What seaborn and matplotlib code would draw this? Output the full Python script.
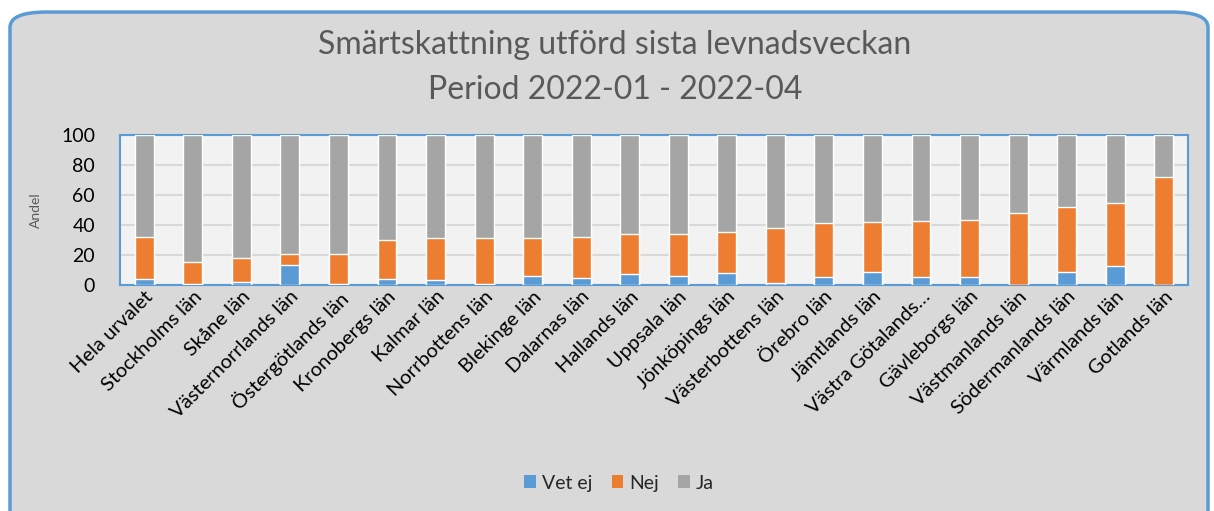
import numpy as np
import pandas as pd
import seaborn as sns
import matplotlib.pyplot as plt
from matplotlib.patches import FancyBboxPatch, Patch

# Data (andel, %)
regions = [
    "Hela urvalet", "Stockholms län", "Skåne län", "Västernorrlands län",
    "Östergötlands län", "Kronobergs län", "Kalmar län", "Norrbottens län",
    "Blekinge län", "Dalarnas län", "Hallands län", "Uppsala län",
    "Jönköpings län", "Västerbottens län", "Örebro län", "Jämtlands län",
    "Västra Götalands…", "Gävleborgs län", "Västmanlands län",
    "Södermanlands län", "Värmlands län", "Gotlands län",
]
vet_ej = [4.3, 1.0, 2.2, 13.5, 0.5, 4.3, 3.4, 0.4, 5.8, 4.5, 7.2, 5.8,
          7.8, 1.6, 5.4, 8.5, 5.4, 5.4, 0.2, 8.5, 12.5, 0.0]
nej_top = [32.0, 15.4, 18.3, 20.4, 21.0, 30.2, 31.1, 31.3, 31.3, 32.0, 34.2, 34.2,
           35.1, 38.0, 41.2, 42.0, 42.5, 43.2, 48.3, 51.7, 55.0, 71.8]
nej = [t - v for t, v in zip(nej_top, vet_ej)]
ja = [100 - t for t in nej_top]

series = ["Vet ej", "Nej", "Ja"]
colors = {"Vet ej": "#5B9BD5", "Nej": "#ED7D31", "Ja": "#A5A5A5"}

df = pd.DataFrame({"region": regions, "Vet ej": vet_ej, "Nej": nej, "Ja": ja})
# cumulative heights for stacking
df["c_vet"] = df["Vet ej"]
df["c_nej"] = df["Vet ej"] + df["Nej"]
df["c_ja"] = df["c_nej"] + df["Ja"]

sns.set_theme(style="white")
plt.rcParams["font.family"] = ["Lato", "DejaVu Sans"]

fig = plt.figure(figsize=(12.14, 5.11), dpi=100)
fig.patch.set_facecolor("white")

# rounded chart frame
frame = FancyBboxPatch((10 / 1214, -0.05), 1198 / 1214, 1.0 - 10 / 511 + 0.05 - 0.004,
                       boxstyle="round,pad=0,rounding_size=0.03",
                       transform=fig.transFigure, facecolor="#D9D9D9",
                       edgecolor="#5B9BD5", linewidth=2.5, zorder=-10)
fig.patches.append(frame)

ax = fig.add_axes([120 / 1214, 1 - 285 / 511, 1068 / 1214, 150 / 511])
ax.set_zorder(1)
ax.set_facecolor("#F2F2F2")

for col, key in [("c_ja", "Ja"), ("c_nej", "Nej"), ("c_vet", "Vet ej")]:
    sns.barplot(data=df, x="region", y=col, color=colors[key], width=0.39,
                saturation=1, ax=ax, zorder=3)

ax.set_ylim(0, 100)
ax.set_xlim(-0.5, len(regions) - 0.5)
ax.set_yticks(range(0, 101, 20))
ax.yaxis.grid(True, color="#D9D9D9", linewidth=1.5, zorder=0)
ax.set_axisbelow(True)
for s in ax.spines.values():
    s.set_color("#5B9BD5")
    s.set_linewidth(1.5)

ax.tick_params(axis="y", labelsize=14, colors="#000000", length=0, pad=18)
ax.tick_params(axis="x", labelsize=14.5, colors="#000000", length=0, pad=2)
plt.setp(ax.get_xticklabels(), rotation=45, ha="right", rotation_mode="anchor")
ax.set_xlabel("")
ax.set_ylabel("Andel", fontsize=10, color="#595959", labelpad=14)

fig.text(615 / 1214, 1 - 45 / 511, "Smärtskattning utförd sista levnadsveckan",
         ha="center", va="center", fontsize=23, color="#595959")
fig.text(615 / 1214, 1 - 90 / 511, "Period 2022-01 - 2022-04",
         ha="center", va="center", fontsize=23, color="#595959")

handles = [Patch(facecolor=colors[s], edgecolor="none", label=s) for s in series]
fig.legend(handles=handles, loc="center", bbox_to_anchor=(619 / 1214, 1 - 483 / 511),
           ncol=3, frameon=False, fontsize=14, handlelength=0.6,
           handleheight=0.6, handletextpad=0.3, columnspacing=1.0)

fig.savefig("out.png", dpi=100)
